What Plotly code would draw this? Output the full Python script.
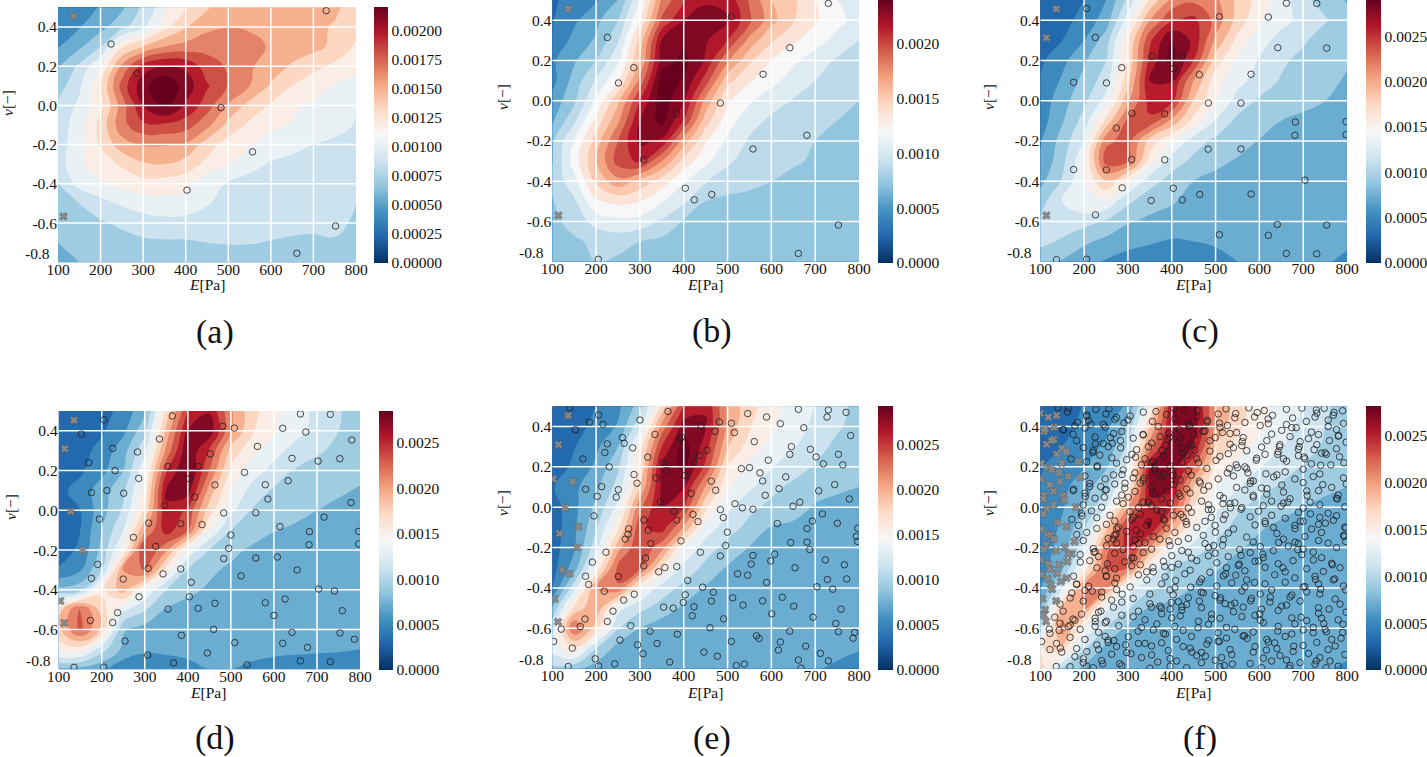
import numpy as np
import plotly.graph_objects as go

W, H = 1427, 757
FONT = "Liberation Serif"

E_GRID = [100, 150, 200, 250, 300, 350, 400, 450, 500, 550, 600, 650, 700, 750, 800]
NU_GRID = [0.5, 0.4, 0.3, 0.2, 0.1, 0.0, -0.1, -0.2, -0.3, -0.4, -0.5, -0.6, -0.7, -0.8]
E_TICKS = [100, 200, 300, 400, 500, 600, 700, 800]
NU_TICKS = [0.4, 0.2, 0.0, -0.2, -0.4, -0.6]
NU_LABELS = ["0.4", "0.2", "0.0", "-0.2", "-0.4", "-0.6"]

# RdBu reversed, as in the colorbars
RDBU_R = ['#053061', '#2166ac', '#4393c3', '#92c5de', '#d1e5f0', '#f7f7f7',
          '#fddbc7', '#f4a582', '#d6604d', '#b2182b', '#67001f']

# density surfaces, in units of 1e-5
Z_A = [
    [33, 38, 46, 57, 78, 100, 119, 134, 140, 141, 142, 143, 143, 139, 125],
    [34, 44, 55, 70, 88, 115, 134, 146, 149, 148, 147, 144, 140, 133, 121],
    [44, 57, 74, 118, 135, 150, 155, 160, 163, 156, 148, 143, 140, 131, 118],
    [58, 78, 105, 152, 187, 197, 192, 172, 163, 152, 143, 133, 124, 117, 111],
    [68, 87, 119, 171, 205, 223, 203, 182, 164, 150, 133, 120, 112, 104, 99],
    [78, 93, 116, 158, 195, 215, 193, 172, 148, 130, 118, 108, 102, 96, 90],
    [82, 98, 125, 160, 177, 177, 172, 155, 130, 117, 108, 104, 100, 95, 89],
    [83, 99, 122, 143, 151, 151, 148, 127, 113, 106, 100, 95, 90, 87, 84],
    [83, 103, 112, 122, 133, 135, 128, 116, 106, 96, 88, 85, 83, 83, 81],
    [75, 95, 103, 109, 114, 113, 110, 94, 89, 83, 80, 79, 78, 78, 77],
    [68, 75, 84, 92, 97, 100, 98, 91, 85, 80, 78, 77, 77, 78, 75],
    [65, 69, 73, 78, 83, 85, 85, 84, 83, 83, 82, 81, 80, 80, 72],
    [60, 63, 66, 69, 72, 73, 73, 75, 76, 76, 74, 72, 71, 73, 68],
    [50, 60, 62, 63, 64, 64, 65, 66, 65, 64, 63, 62, 62, 62, 62],
]
Z_B = [
    [28, 35, 43, 60, 105, 168, 194, 207, 205, 178, 150, 138, 120, 105, 93],
    [29, 42, 56, 75, 120, 183, 210, 218, 212, 183, 155, 136, 122, 110, 98],
    [31, 50, 62, 88, 140, 211, 222, 212, 195, 160, 137, 123, 112, 100, 90],
    [42, 58, 75, 102, 150, 218, 229, 208, 167, 138, 120, 108, 98, 88, 83],
    [40, 66, 92, 118, 170, 232, 224, 188, 140, 122, 110, 98, 90, 86, 81],
    [50, 72, 107, 147, 195, 234, 212, 160, 122, 107, 96, 89, 85, 80, 75],
    [58, 87, 125, 162, 210, 230, 194, 142, 112, 96, 87, 84, 80, 75, 71],
    [72, 106, 142, 180, 214, 207, 158, 122, 102, 88, 84, 79, 75, 71, 69],
    [74, 112, 149, 187, 198, 165, 130, 109, 92, 85, 80, 77, 73, 70, 68],
    [78, 100, 138, 160, 145, 128, 107, 91, 84, 80, 75, 71, 69, 68, 68],
    [74, 87, 118, 124, 120, 106, 93, 75, 71, 69, 68, 68, 67, 67, 66],
    [70, 82, 95, 101, 99, 88, 73, 69, 67, 66, 66, 66, 66, 66, 66],
    [63, 72, 79, 81, 75, 71, 68, 67, 66, 66, 66, 66, 66, 66, 66],
    [60, 66, 75, 72, 69, 68, 66, 65, 65, 65, 65, 65, 65, 65, 65],
]
Z_C = [
    [26, 28, 40, 60, 105, 162, 205, 215, 205, 175, 152, 128, 105, 92, 78],
    [28, 34, 46, 70, 130, 200, 238, 246, 213, 172, 143, 126, 114, 102, 88],
    [30, 40, 60, 90, 158, 236, 280, 255, 195, 154, 128, 113, 103, 90, 80],
    [36, 54, 77, 100, 163, 247, 288, 240, 170, 136, 118, 104, 94, 85, 82],
    [40, 63, 86, 110, 173, 260, 262, 200, 148, 127, 112, 98, 90, 85, 78],
    [47, 72, 95, 128, 195, 248, 245, 178, 142, 112, 97, 90, 85, 80, 74],
    [50, 78, 108, 165, 226, 236, 195, 153, 118, 95, 89, 80, 76, 71, 68],
    [58, 88, 122, 215, 228, 172, 142, 110, 95, 88, 79, 74, 70, 67, 66],
    [62, 94, 137, 230, 222, 150, 110, 95, 85, 78, 73, 68, 66, 65, 64],
    [74, 102, 140, 178, 144, 108, 92, 80, 74, 70, 68, 66, 65, 64, 63],
    [92, 120, 138, 136, 104, 88, 82, 74, 68, 65, 64, 63, 63, 63, 63],
    [102, 112, 107, 98, 82, 76, 72, 68, 65, 63, 62, 62, 62, 62, 62],
    [106, 97, 84, 74, 66, 62, 58, 60, 62, 64, 66, 66, 66, 65, 63],
    [85, 79, 67, 58, 52, 49, 47, 50, 55, 60, 62, 63, 63, 62, 56],
]
Z_D = [
    [26, 28, 32, 47, 75, 165, 240, 258, 203, 167, 145, 129, 115, 102, 88],
    [26, 30, 37, 55, 94, 187, 262, 273, 202, 162, 142, 127, 113, 100, 88],
    [24, 32, 47, 72, 115, 205, 278, 238, 173, 145, 127, 113, 103, 95, 88],
    [27, 36, 54, 80, 135, 238, 283, 220, 155, 130, 113, 98, 92, 89, 86],
    [34, 48, 70, 95, 148, 262, 270, 192, 140, 112, 97, 90, 86, 83, 78],
    [32, 40, 72, 103, 165, 258, 236, 170, 125, 98, 91, 87, 80, 75, 70],
    [30, 40, 80, 120, 199, 250, 220, 138, 100, 90, 81, 76, 71, 68, 67],
    [30, 44, 86, 145, 244, 204, 134, 99, 86, 76, 71, 67, 65, 64, 63],
    [42, 58, 100, 200, 224, 150, 98, 84, 76, 70, 66, 64, 63, 63, 62],
    [85, 92, 155, 190, 138, 100, 85, 77, 70, 66, 64, 63, 63, 63, 63],
    [170, 225, 170, 125, 102, 78, 72, 68, 66, 65, 64, 64, 64, 64, 64],
    [175, 225, 175, 82, 72, 66, 65, 64, 64, 64, 64, 64, 64, 64, 64],
    [150, 150, 108, 75, 64, 62, 62, 62, 62, 63, 63, 63, 63, 62, 60],
    [75, 72, 64, 46, 45, 55, 58, 60, 60, 58, 55, 52, 48, 46, 40],
]
Z_E = [
    [22, 30, 40, 55, 90, 166, 241, 258, 197, 168, 148, 132, 119, 106, 94],
    [24, 32, 46, 62, 115, 208, 270, 262, 195, 162, 143, 128, 116, 103, 92],
    [25, 39, 56, 80, 150, 240, 290, 250, 182, 150, 135, 122, 108, 95, 88],
    [29, 44, 64, 96, 160, 266, 285, 235, 160, 135, 121, 110, 98, 88, 84],
    [38, 55, 75, 108, 180, 265, 262, 198, 142, 124, 106, 95, 88, 83, 80],
    [30, 54, 85, 126, 215, 262, 240, 163, 125, 105, 95, 88, 78, 75, 72],
    [28, 56, 97, 154, 235, 250, 198, 132, 109, 94, 79, 76, 72, 68, 66],
    [30, 58, 112, 192, 240, 208, 140, 110, 93, 79, 76, 71, 68, 66, 65],
    [32, 70, 145, 226, 225, 157, 115, 94, 78, 75, 70, 67, 65, 64, 63],
    [40, 112, 199, 218, 146, 110, 94, 78, 72, 68, 66, 65, 64, 63, 63],
    [82, 165, 198, 127, 105, 92, 76, 70, 66, 65, 64, 64, 64, 64, 64],
    [113, 222, 170, 101, 80, 68, 65, 63, 63, 63, 63, 63, 63, 63, 63],
    [130, 155, 100, 72, 64, 63, 63, 63, 63, 63, 63, 63, 63, 63, 62],
    [95, 85, 70, 62, 61, 61, 61, 61, 61, 61, 61, 61, 61, 58, 45],
]
Z_F = [
    [25, 32, 41, 52, 62, 140, 260, 268, 200, 170, 148, 130, 120, 106, 85],
    [26, 33, 46, 55, 82, 180, 262, 275, 195, 165, 145, 128, 115, 100, 85],
    [28, 40, 52, 63, 104, 210, 275, 258, 178, 150, 133, 121, 109, 97, 80],
    [38, 49, 59, 77, 123, 260, 275, 222, 159, 135, 121, 110, 98, 88, 81],
    [40, 55, 70, 95, 148, 262, 263, 180, 140, 122, 108, 97, 90, 85, 80],
    [46, 58, 78, 120, 200, 258, 240, 160, 125, 104, 92, 86, 80, 74, 70],
    [48, 63, 95, 172, 245, 262, 194, 140, 110, 93, 82, 76, 71, 67, 66],
    [48, 68, 113, 215, 245, 200, 140, 113, 93, 82, 75, 70, 67, 65, 64],
    [52, 76, 148, 222, 220, 140, 97, 88, 82, 74, 70, 67, 65, 64, 63],
    [58, 116, 205, 205, 130, 104, 93, 78, 72, 68, 66, 65, 64, 63, 63],
    [78, 183, 202, 125, 102, 78, 72, 68, 66, 65, 64, 64, 64, 64, 64],
    [110, 212, 142, 99, 75, 66, 64, 64, 64, 64, 64, 64, 64, 64, 64],
    [158, 172, 103, 74, 64, 63, 63, 63, 63, 63, 63, 63, 63, 63, 63],
    [175, 95, 75, 62, 61, 61, 61, 61, 61, 61, 61, 61, 61, 61, 58],
]

# evaluated samples (circles) and rejected samples (crosses)
A_POINTS = [(730, .483), (224.5, .313), (285.6, .163), (483, -.012), (557, -.237), (403, -.432), (661, -.754), (752, -.615)]
A_REJECTED = [(136, .454), (113, -.566)]

B_POINTS = [(508.7, .417), (730, .483), (225.6, .314), (286, .164), (251, .088), (642, .263), (581, .131), (483.6, -.012),
            (384, -.066), (308.5, -.293), (558, -.24), (681, -.172), (403.6, -.435), (424, -.493), (464, -.466),
            (205, -.788), (661.6, -.759), (753, -.618)]
B_REJECTED = [(136.5, .456), (113.7, -.57)]

C_POINTS = [(205.8, .458), (508.7, .417), (620.5, .415), (661.6, .484), (731, .483), (225.6, .314), (753.7, .261), (642, .263),
            (355, .22), (423, .223), (286, .164), (403.6, .159), (463, .129), (176, .091), (251, .088), (581, .131),
            (483.6, -.012), (558, -.012), (309, -.063), (384, -.066), (273.5, -.136), (682, -.106), (681, -.172),
            (798, -.104), (798, -.169), (483, -.241), (558, -.24), (308.5, -.293), (384, -.294), (250.7, -.344),
            (176, -.342), (704, -.395), (287, -.433), (403.6, -.435), (353, -.496), (424, -.493), (464, -.466),
            (581, -.464), (226, -.567), (641, -.615), (753.7, -.618), (508.7, -.666), (620.5, -.669), (661.6, -.759),
            (731, -.761), (137, -.79), (205.8, -.788)]
C_REJECTED = [(136.5, .456), (113.7, .312), (113.7, -.57)]

D_POINTS = [(364, .475), (205, .456), (152.7, .384), (661.6, .485), (731, .483), (620.5, .413), (674, .394), (781, .354),
            (481, .423), (508, .414), (334, .359), (283, .294), (561.7, .322), (452.4, .284), (225.5, .312), (169.7, .24),
            (642, .262), (702.6, .248), (753, .26), (354, .22), (424, .221), (231, .2), (531.5, .191), (286, .161),
            (403.6, .159), (580, .129), (633, .149), (463, .128), (176, .089), (212, .1), (251, .086), (416, .067),
            (586, .057), (779, .039), (346, .025), (483.4, -.013), (558, -.012), (194.5, -.044), (716.6, -.034),
            (309, -.064), (383.5, -.067), (433, -.072), (614, -.082), (500, -.124), (273.5, -.136), (682.5, -.107),
            (797, -.106), (681.7, -.173), (797, -.169), (325.4, -.181), (495, -.191), (190.6, -.272), (483.4, -.243),
            (558, -.24), (608, -.235), (308, -.292), (383.5, -.295), (654, -.3), (176, -.342), (342.4, -.32),
            (523.7, -.33), (250, -.346), (408, -.362), (704, -.396), (740.6, -.406), (286.7, -.435), (403.6, -.435),
            (463, -.468), (580, -.465), (626, -.446), (354, -.497), (424, -.493), (759, -.505), (237, -.515),
            (173.6, -.554), (225.5, -.565), (600, -.529), (460, -.599), (642, -.614), (753.7, -.617), (385, -.629),
            (254, -.658), (509, -.666), (620.5, -.669), (787, -.649), (678, -.69), (306.8, -.728), (445.5, -.718),
            (661.6, -.758), (731, -.762), (367, -.768), (537.6, -.778), (135.6, -.79), (205, -.789)]
D_REJECTED = [(135.6, .453), (114, .31), (128, -.005), (155.8, -.201), (103.9, -.456), (113, -.567)]

E_POINTS = [(140, .492), (205.8, .457), (184.5, .421), (215.7, .411), (153, .384), (300, .432), (364, .474), (439.4, .403),
            (481.3, .422), (508.7, .416), (546, .464), (589, .447), (620.5, .414), (661.6, .485), (674, .394), (730, .482),
            (727, .447), (770.5, .47), (781, .355), (471.4, .376), (515.5, .37), (334.4, .361), (260, .345), (264, .317),
            (395, .347), (391.5, .335), (225.6, .314), (561, .325), (283.4, .294), (453, .282), (645.7, .3), (689, .287),
            (220, .271), (317.7, .248), (435.6, .257), (642, .262), (702, .249), (753, .262), (170, .239), (593, .233),
            (354, .221), (423.4, .223), (718.7, .215), (763, .21), (230, .2), (531.5, .191), (550, .196), (361, .182),
            (403.6, .158), (574, .17), (286.5, .162), (336.7, .145), (580, .13), (632.7, .15), (463, .129), (293.3, .119),
            (744.6, .112), (212.6, .102), (176, .089), (250.7, .087), (473, .084), (617.5, .092), (708, .081), (416.6, .068),
            (202.7, .054), (246, .05), (586, .059), (778, .041), (346.5, .026), (517, .017), (665, .025), (649.5, .005),
            (533.8, -.003), (483.6, -.012), (558, -.01), (377, -.02), (421, -.036), (195, -.043), (716.4, -.033),
            (490.4, -.051), (309, -.063), (384, -.064), (432.6, -.071), (613.7, -.081), (693.6, -.069), (750.7, -.079),
            (274.3, -.107), (681.4, -.106), (319, -.114), (797, -.104), (499.5, -.124), (272.8, -.134), (266.7, -.158),
            (794, -.144), (797, -.17), (393.8, -.167), (644, -.175), (681.4, -.173), (325, -.18), (495.7, -.19),
            (687.5, -.21), (222.5, -.223), (438, -.223), (607.6, -.233), (483.5, -.241), (558, -.239), (313, -.252),
            (191.3, -.272), (598.5, -.266), (723.3, -.261), (554, -.282), (766.7, -.285), (308.5, -.29), (384, -.294),
            (357, -.299), (654, -.3), (342.8, -.32), (523, -.33), (546, -.337), (176, -.342), (250.7, -.343), (728, -.358),
            (772, -.355), (409, -.363), (589, -.373), (183, -.383), (704, -.394), (443, -.396), (740, -.406), (218.7, -.416),
            (467.6, -.421), (403.6, -.434), (287, -.431), (625, -.446), (511.7, -.449), (463, -.465), (262.9, -.46),
            (580, -.464), (399, -.472), (535.3, -.485), (651, -.49), (354, -.495), (376, -.5), (423.4, -.493), (759, -.505),
            (238.5, -.515), (419.6, -.538), (600.8, -.528), (695, -.545), (491, -.553), (174.6, -.554), (225.6, -.566),
            (747, -.576), (164, -.591), (279, -.587), (120.5, -.604), (460, -.597), (323, -.614), (642, -.614), (753, -.617),
            (790, -.62), (385.4, -.629), (786.5, -.649), (566, -.637), (572, -.65), (508.7, -.665), (254.5, -.658),
            (620.5, -.668), (103, -.665), (294.8, -.682), (339, -.675), (678.4, -.688), (616, -.708), (145.7, -.698),
            (446, -.718), (307, -.726), (712, -.724), (476.7, -.738), (198, -.751), (661.6, -.757), (730, -.761), (368, -.767),
            (242.3, -.776), (538.4, -.777), (520, -.784), (136.5, -.789), (205.8, -.787), (667.7, -.797)]
E_REJECTED = [(136, .454), (114, .31), (102, .14), (147, .127), (129, -.003), (160, -.096), (116.7, -.13), (156.3, -.198),
              (122.8, -.31), (139.6, -.33), (105.3, -.454), (113, -.568)]

F_EXTRA = [
    (164, .49), (227, .485), (257, .488), (405, .49), (429, .483), (458, .479), (524, .487), (576, .492), (611, .479), (697, .491), (748, .49), (790, .478),
    (162, .472), (206, .45), (250, .462), (274, .445), (305, .452), (335, .471), (388, .46), (457, .448), (506, .462), (544, .443), (595, .469), (630, .455), (676, .442), (731, .466), (769, .456),
    (210, .428), (244, .41), (270, .435), (291, .418), (356, .425), (407, .439), (438, .414), (481, .43), (527, .405), (567, .42), (620, .437), (662, .41), (707, .425), (757, .432), (792, .415),
    (179, .403), (202, .392), (152, .384), (248, .397), (286, .375), (369, .4), (417, .385), (442, .402), (476, .378), (510, .395), (548, .37), (602, .405), (651, .381), (684, .394), (719, .372), (757, .4), (776, .385),
    (175, .362), (225, .348), (267, .365), (312, .342), (335, .358), (373, .35), (394, .366), (420, .34), (451, .36), (499, .345), (533, .365), (563, .345), (628, .362), (670, .35), (712, .34), (735, .36), (780, .352),
    (183, .33), (244, .315), (283, .33), (354, .318), (388, .305), (415, .325), (445, .31), (487, .33), (533, .312), (560, .305), (617, .33), (647, .31), (693, .325), (731, .31), (760, .33), (798, .322),
    (198, .295), (221, .28), (255, .3), (320, .285), (347, .3), (377, .282), (423, .29), (442, .302), (487, .278), (541, .295), (571, .28), (605, .298), (643, .275), (691, .3), (725, .285), (750, .27), (776, .29),
    (236, .258), (263, .245), (309, .262), (339, .24), (381, .255), (426, .268), (457, .24), (510, .252), (529, .265), (594, .243), (613, .262), (655, .24), (689, .255), (704, .24), (742, .268), (783, .25),
    (206, .225), (230, .205), (274, .218), (297, .235), (331, .21), (358, .228), (396, .205), (461, .22), (501, .232), (547, .21), (567, .2), (662, .228), (740, .208), (793, .22),
    (289, .185), (316, .17), (362, .19), (381, .165), (438, .18), (480, .192), (527, .17), (571, .19), (615, .165), (659, .175), (700, .188), (738, .165),
    (202, .155), (248, .14), (267, .16), (312, .145), (335, .132), (377, .15), (419, .135), (445, .158), (506, .14), (541, .155), (586, .13), (640, .16), (681, .14), (723, .152), (792, .145),
    (213, .118), (238, .102), (270, .115), (293, .095), (328, .12), (354, .1), (404, .112), (434, .09), (465, .12), (484, .105), (548, .098), (579, .118), (605, .095), (651, .11), (700, .122), (765, .098), (798, .115),
    (175, .082), (202, .07), (248, .085), (286, .06), (316, .078), (362, .065), (388, .08), (442, .07), (510, .058), (567, .085), (617, .065), (655, .075), (709, .058), (735, .082), (780, .06),
    (225, .045), (274, .03), (301, .05), (335, .025), (377, .04), (419, .055), (468, .03), (518, .045), (544, .022), (586, .05), (628, .03), (670, .042), (716, .025), (776, .045),
    (198, .012), (240, .0), (289, .018), (324, -.002), (354, .01), (396, .02), (438, -.004), (484, .012), (533, .018), (560, -.002), (609, .008), (655, .02), (700, -.004), (738, .012), (795, .002),
    (194, -.03), (217, -.018), (259, -.04), (305, -.022), (328, -.035), (366, -.015), (404, -.04), (445, -.025), (491, -.012), (522, -.038), (598, -.02), (628, -.04), (689, -.025), (757, -.03), (776, -.042),
    (172, -.06), (229, -.052), (270, -.068), (312, -.05), (347, -.072), (381, -.058), (426, -.05), (476, -.07), (518, -.06), (579, -.048), (613, -.07), (659, -.055), (700, -.07), (738, -.05), (769, -.065),
    (187, -.09), (229, -.105), (251, -.085), (278, -.1), (343, -.09), (388, -.105), (434, -.085), (457, -.1), (499, -.09), (541, -.108), (590, -.088), (632, -.1), (681, -.09), (719, -.108), (735, -.085), (795, -.098),
    (183, -.135), (206, -.125), (270, -.14), (297, -.12), (328, -.132), (358, -.145), (407, -.125), (472, -.14), (529, -.128), (571, -.148), (640, -.13), (704, -.145), (742, -.125), (792, -.14),
    (198, -.165), (255, -.155), (274, -.178), (316, -.162), (339, -.175), (373, -.158), (415, -.17), (438, -.155), (476, -.18), (518, -.16), (586, -.172), (655, -.158), (689, -.18), (735, -.165), (757, -.178),
    (221, -.205), (251, -.19), (289, -.21), (312, -.195), (354, -.208), (396, -.19), (423, -.215), (484, -.2), (516, -.188), (555, -.21), (602, -.195), (632, -.215), (666, -.192), (700, -.208), (776, -.2),
    (191, -.235), (225, -.22), (233, -.245), (270, -.228), (309, -.25), (335, -.225), (400, -.24), (445, -.252), (499, -.228), (529, -.245), (579, -.225), (609, -.25), (697, -.235), (723, -.222), (742, -.25),
    (213, -.265), (253, -.28), (293, -.27), (328, -.285), (381, -.268), (415, -.282), (457, -.265), (503, -.275), (552, -.288), (590, -.268), (643, -.28), (677, -.265), (765, -.278),
    (229, -.3), (248, -.315), (270, -.305), (358, -.32), (400, -.298), (442, -.312), (487, -.322), (525, -.3), (567, -.315), (613, -.298), (659, -.32), (708, -.305), (746, -.318), (784, -.3),
    (251, -.34), (274, -.352), (324, -.335), (343, -.36), (385, -.345), (430, -.33), (468, -.355), (518, -.34), (571, -.36), (635, -.335), (681, -.35), (727, -.342), (769, -.36),
    (183, -.38), (210, -.392), (270, -.375), (305, -.395), (377, -.38), (407, -.398), (464, -.37), (503, -.39), (537, -.375), (567, -.395), (613, -.38), (659, -.372), (700, -.395), (735, -.38), (792, -.39),
    (202, -.412), (172, -.425), (240, -.42), (274, -.408), (350, -.43), (396, -.41), (472, -.425), (499, -.438), (560, -.415), (602, -.43), (628, -.41), (674, -.435), (708, -.42), (738, -.43), (797, -.41),
    (168, -.45), (198, -.465), (240, -.445), (286, -.47), (312, -.452), (415, -.468), (438, -.448), (510, -.46), (544, -.475), (582, -.452), (624, -.47), (670, -.445), (693, -.465), (773, -.455),
    (145, -.48), (267, -.495), (350, -.478), (373, -.49), (396, -.505), (434, -.482), (468, -.498), (522, -.478), (563, -.495), (605, -.505), (662, -.485), (735, -.498), (784, -.48),
    (152, -.515), (194, -.53), (233, -.52), (286, -.535), (324, -.515), (377, -.528), (423, -.51), (491, -.53), (541, -.518), (590, -.535), (643, -.512), (735, -.525), (798, -.52),
    (133, -.545), (179, -.56), (225, -.55), (251, -.565), (312, -.542), (339, -.558), (400, -.548), (461, -.565), (510, -.55), (560, -.542), (602, -.56), (674, -.548), (708, -.562), (742, -.55), (780, -.558),
    (168, -.585), (145, -.575), (225, -.59), (248, -.572), (331, -.595), (366, -.578), (407, -.59), (484, -.58), (525, -.595), (609, -.572), (643, -.59), (681, -.578), (723, -.595), (791, -.58),
    (143, -.61), (122, -.625), (191, -.605), (233, -.62), (358, -.608), (381, -.625), (426, -.61), (506, -.622), (544, -.605), (586, -.618), (674, -.628), (700, -.608), (723, -.622), (750, -.605),
    (168, -.645), (202, -.655), (248, -.64), (268, -.66), (301, -.642), (411, -.655), (445, -.64), (484, -.66), (525, -.648), (563, -.638), (617, -.655), (659, -.64), (765, -.655),
    (137, -.675), (229, -.682), (255, -.67), (274, -.69), (324, -.675), (354, -.688), (377, -.672), (426, -.69), (480, -.678), (506, -.665), (590, -.69), (635, -.672), (700, -.685), (731, -.67), (773, -.688),
    (122, -.705), (149, -.718), (183, -.7), (206, -.715), (233, -.705), (297, -.72), (392, -.71), (442, -.698), (468, -.72), (533, -.705), (586, -.718), (640, -.7), (677, -.715), (757, -.705),
    (179, -.74), (263, -.728), (331, -.745), (354, -.732), (396, -.75), (457, -.735), (514, -.745), (537, -.73), (609, -.748), (647, -.735), (738, -.745), (795, -.73),
    (198, -.77), (240, -.76), (281, -.775), (411, -.762), (468, -.77), (499, -.758), (579, -.775), (628, -.762), (693, -.77), (727, -.778), (761, -.762),
    (168, -.79), (221, -.795), (286, -.785), (350, -.797), (396, -.788), (434, -.795), (510, -.79), (605, -.795), (670, -.785), (752, -.795), (780, -.788),
]
F_POINTS = E_POINTS + F_EXTRA
F_REJECTED = [(100, .465), (118, .446), (137, .454), (131, .396), (108, .375), (111, .386), (131, .337), (114, .312), (126, .33),
              (137, .264), (149, .292), (159, .276), (103, .218), (118, .196), (126, .185), (143, .172), (187, .226), (149, .218),
              (164, .152), (191, .147), (145, .127), (102, .14), (122, .111), (130, .078), (108, .061), (107, .041), (152, .058),
              (155, .036), (181, 0), (130, .012), (114, -.008), (107, -.033), (139, -.076), (160, -.096), (103, -.109), (116, -.132),
              (124, -.137), (131, -.157), (178, -.17), (156, -.198), (113, -.186), (108, -.208), (136, -.215), (172, -.231),
              (164, -.231), (101, -.261), (162, -.269), (118, -.28), (122, -.307), (143, -.285), (139, -.327), (103, -.335),
              (116, -.355), (160, -.351), (147, -.368), (124, -.384), (127, -.406), (105, -.454), (136, -.464), (111, -.508),
              (108, -.533), (113, -.566)]

CB_TICKS_A = [0, .00025, .0005, .00075, .001, .00125, .0015, .00175, .002]
CB_TICKS = [0, .0005, .001, .0015, .002, .0025]

# name, z, zmax, level step, circles, crosses, colorbar ticks, format, plot box and colorbar box in pixels
PANELS = [
    dict(tag="(a)", z=Z_A, zmax=.0022, step=15, pts=A_POINTS, rej=A_REJECTED, cbt=CB_TICKS_A, fmt=".5f",
         box=(58, 356, 7.3, 262.3), cb=(374, 14, 7, 263), sub=(215, 332), xl=(207, 284), yl=(8, 103), low=253),
    dict(tag="(b)", z=Z_B, zmax=.0024, step=15, pts=B_POINTS, rej=B_REJECTED, cbt=CB_TICKS[:5], fmt=".4f",
         box=(552.3, 859, 0, 261.7), cb=(878, 15, 0, 263), sub=(712, 331), xl=(705, 284), yl=(502, 97), low=252),
    dict(tag="(c)", z=Z_C, zmax=.0029, step=20, pts=C_POINTS, rej=C_REJECTED, cbt=CB_TICKS, fmt=".4f",
         box=(1040.3, 1347, 0, 261.7), cb=(1366, 15, 0, 263), sub=(1200, 331), xl=(1193, 284), yl=(988, 97), low=252),
    dict(tag="(d)", z=Z_D, zmax=.00285, step=20, pts=D_POINTS, rej=D_REJECTED, cbt=CB_TICKS, fmt=".4f",
         box=(58.7, 360, 411, 669.3), cb=(379, 14, 411, 670), sub=(215, 738), xl=(208, 692), yl=(10, 507), low=660),
    dict(tag="(e)", z=Z_E, zmax=.00293, step=20, pts=E_POINTS, rej=E_REJECTED, cbt=CB_TICKS, fmt=".4f",
         box=(552.3, 859, 406.3, 668.7), cb=(878, 15, 406, 670), sub=(712, 738), xl=(705, 692), yl=(502, 503), low=659),
    dict(tag="(f)", z=Z_F, zmax=.00282, step=20, pts=F_POINTS, rej=F_REJECTED, cbt=CB_TICKS, fmt=".4f",
         box=(1040.3, 1347, 406.3, 668.7), cb=(1366, 15, 406, 670), sub=(1200, 738), xl=(1193, 692), yl=(988, 503), low=659),
]

colorscale = [[i / 10, c] for i, c in enumerate(RDBU_R)]
fig = go.Figure()
annotations = []


def note(px, py, text, size=15, angle=0, xanchor="center"):
    annotations.append(dict(x=px / W, y=1 - py / H, xref="paper", yref="paper", text=text, showarrow=False,
                            textangle=angle, xanchor=xanchor, yanchor="middle",
                            font=dict(family=FONT, size=size, color="#111")))


# white grid drawn over the filled contours
grid_x, grid_y = [], []
for e in E_TICKS[1:-1]:
    grid_x += [e, e, None]
    grid_y += [NU_GRID[-1], NU_GRID[0], None]
for nu in NU_TICKS:
    grid_x += [E_TICKS[0], E_TICKS[-1], None]
    grid_y += [nu, nu, None]

for i, p in enumerate(PANELS, start=1):
    xa, ya = f"x{i}", f"y{i}"
    x0, x1, y0, y1 = p["box"]
    top = p["zmax"] * 1e5 // p["step"] * p["step"] + p["step"]
    fig.add_trace(go.Contour(
        x=E_GRID, y=NU_GRID, z=np.array(p["z"]) * 1e-5,
        xaxis=xa, yaxis=ya, zmin=0, zmax=p["zmax"], colorscale=colorscale, showscale=False,
        contours=dict(start=0, end=top * 1e-5, size=p["step"] * 1e-5, coloring="fill"),
        line=dict(width=0, smoothing=1.3), hoverinfo="skip",
    ))
    fig.add_trace(go.Scatter(x=grid_x, y=grid_y, xaxis=xa, yaxis=ya, mode="lines",
                             line=dict(color="white", width=1.5), hoverinfo="skip"))
    pts_e, pts_nu = zip(*p["pts"])
    fig.add_trace(go.Scatter(
        x=pts_e, y=pts_nu, xaxis=xa, yaxis=ya, mode="markers",
        marker=dict(symbol="circle-open", size=6.5, color="rgba(30,30,30,0.8)", line=dict(width=1)),
    ))
    rej_e, rej_nu = zip(*p["rej"])
    fig.add_trace(go.Scatter(
        x=rej_e, y=rej_nu, xaxis=xa, yaxis=ya, mode="markers",
        marker=dict(symbol="x", size=7, color="#8a8a8a", line=dict(color="#555", width=0.5)),
    ))
    # continuous colorbar, the contour trace itself would draw it in bands
    cx, cw, cy0, cy1 = p["cb"]
    fig.add_trace(go.Scatter(
        x=[None, None], y=[None, None], xaxis=xa, yaxis=ya, mode="markers",
        marker=dict(color=[0, p["zmax"]], cmin=0, cmax=p["zmax"], colorscale=colorscale, showscale=True,
                    colorbar=dict(x=cx / W, xanchor="left", xpad=0, ypad=0, y=1 - cy0 / H, yanchor="top",
                                  len=(cy1 - cy0) / H, lenmode="fraction", thickness=cw, thicknessmode="pixels",
                                  outlinewidth=0, ticks="", tickvals=p["cbt"], tickformat=p["fmt"],
                                  tickfont=dict(family=FONT, size=15.5, color="#111"))),
    ))
    axis_font = dict(family=FONT, size=15.5, color="#111")
    fig.update_layout(**{
        f"xaxis{i}": dict(domain=[x0 / W, x1 / W], range=[E_TICKS[0], E_TICKS[-1]], anchor=ya, showgrid=False,
                          zeroline=False, showline=False, ticks="", tickvals=E_TICKS, tickfont=axis_font,
                          ticklabelstandoff=-4),
        f"yaxis{i}": dict(domain=[1 - y1 / H, 1 - y0 / H], range=[NU_GRID[-1], NU_GRID[0]], anchor=xa, showgrid=False,
                          zeroline=False, showline=False, ticks="", tickvals=NU_TICKS, ticktext=NU_LABELS,
                          tickfont=axis_font),
    })
    note(p["sub"][0], p["sub"][1], p["tag"], size=34)
    note(p["xl"][0], p["xl"][1], "<i>E</i>[Pa]", size=15.5)
    note(p["yl"][0], p["yl"][1], "<i>ν</i>[−]", size=15.5, angle=-90)
    note(x0 - 6, p["low"], "-0.8", size=15.5, xanchor="right")

fig.update_layout(
    width=W, height=H, autosize=False, showlegend=False,
    margin=dict(l=0, r=0, t=0, b=0, autoexpand=False),
    paper_bgcolor="white", plot_bgcolor="#eaeaf2",
    annotations=annotations,
)
fig.write_html("out.html", config=dict(displayModeBar=False),
               post_script="document.body.style.margin='0';document.body.style.overflow='hidden';")
